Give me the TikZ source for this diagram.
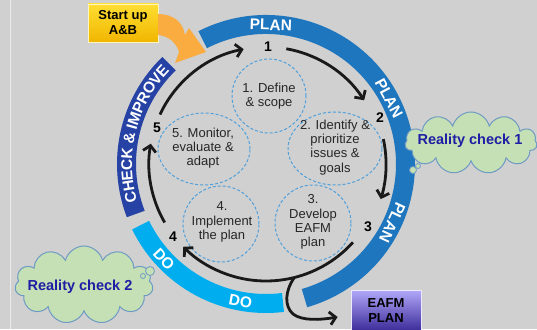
\documentclass[tikz,border=0pt]{standalone}
\usepackage{fontspec}
\setmainfont{Liberation Sans}
\usetikzlibrary{calc,arrows.meta,shapes.geometric,shapes.symbols}
\definecolor{bg}{RGB}{208,208,208}
\definecolor{planc}{RGB}{30,118,190}
\definecolor{doc}{RGB}{0,174,239}
\definecolor{checkc}{RGB}{37,66,164}
\definecolor{dashc}{RGB}{80,160,220}
\definecolor{cloudfill}{RGB}{197,224,180}
\definecolor{cloudline}{RGB}{110,155,195}
\definecolor{rctext}{RGB}{30,30,165}
\definecolor{orangec}{RGB}{250,172,64}
\definecolor{goldtop}{RGB}{255,222,50}
\definecolor{goldbot}{RGB}{240,182,0}
\definecolor{purtop}{RGB}{178,168,250}
\definecolor{purbot}{RGB}{55,40,150}
\begin{document}
\begin{tikzpicture}[x=1pt,y=1pt,
  band/.style={line width=19pt},
  bandtext/.style={font=\fontsize{15.5}{15.5}\selectfont\bfseries, text=white, inner sep=0pt, text height=11pt, text depth=0pt},
  dashcirc/.style={draw=dashc, dash pattern=on 3pt off 2pt, line width=1pt, inner sep=0pt},
  steptext/.style={align=center, font=\fontsize{13}{14.2}\selectfont, text=black!85, inner sep=0pt},
  cyc/.style={line width=2.8pt, black!90, -{Straight Barb[length=6pt,width=13pt]}},
  num/.style={font=\fontsize{14}{14}\selectfont\bfseries, inner sep=0pt},
  thought/.style={cloud, cloud puffs=11, cloud ignores aspect, draw=cloudline, fill=cloudfill, line width=1pt, inner sep=0pt},
  rclabel/.style={font=\fontsize{14.5}{15}\selectfont\bfseries, text=rctext, inner sep=0pt},
  bubble/.style={circle, draw=cloudline, fill=cloudfill, line width=0.8pt, inner sep=0pt},
  startbox/.style={draw=white!70!goldtop, line width=0.8pt, top color=goldtop, bottom color=goldbot, minimum width=70pt, minimum height=38pt, align=center, font=\fontsize{13}{15}\selectfont\bfseries, inner sep=0pt},
  eafmbox/.style={draw=white!75!purtop, line width=0.8pt, top color=purtop, bottom color=purbot, minimum width=70pt, minimum height=42pt, align=center, font=\fontsize{13}{15}\selectfont\bfseries, inner sep=0pt}
]
\useasboundingbox (0,0) rectangle (537,329);
\fill[bg] (0,0) rectangle (537,329);
\draw[white!55!bg, line width=1pt] (10,0) -- (10,329);

\coordinate (C) at (266,165);

% outer bands
\coordinate (pa) at ($(C)+(117:139.5)$);
\coordinate (da) at ($(C)+(206:139.5)$);
\coordinate (ca) at ($(C)+(134:139.5)$);
\draw[band, planc] (pa) arc[start angle=117, end angle=-74, radius=139.5];
\draw[band, doc] (da) arc[start angle=206, end angle=277, radius=139.5];
\draw[band, checkc] (ca) arc[start angle=134, end angle=201, radius=139.5];

% band texts
\node[bandtext, rotate=-2] (pl1) at ($(C)+(88:139.5)$) {PLAN};
\node[bandtext, rotate=-62] (pl2) at ($(C)+(28:139.5)$) {PLAN};
\node[bandtext, rotate=-115] (pl3) at ($(C)+(-25:139.5)$) {PLAN};
\node[bandtext, rotate=-47] (do1) at ($(C)+(223:139.5)$) {DO};
\node[bandtext, rotate=-10.5] (do2) at ($(C)+(259.5:139.5)$) {DO};
\foreach \a/\l [count=\i] in {193.75/C, 189.16/H, 184.73/E, 180.31/C, 175.72/K, 169.35/\&,
   164.40/I, 160.86/M, 156.09/P, 151.67/R, 146.89/O, 142.29/V, 138.05/E}
  \node[bandtext, rotate=\a-90] (ck\i) at ($(C)+(\a:139.5)$) {\l};

% clouds
\node[thought, minimum width=132pt, minimum height=62pt] (rc1) at (471,186) {};
\node[rclabel] (rc1t) at (470,188) {Reality check 1};
\node[bubble, minimum size=7pt] (b1a) at (413,159) {};
\node[bubble, minimum size=5pt] (b1b) at (418,163) {};
\node[thought, minimum width=138pt, minimum height=78pt] (rc2) at (84,44) {};
\node[rclabel] (rc2t) at (80,42) {Reality check 2};
\node[bubble, minimum size=9pt] (b2a) at (150,58) {};
\node[bubble, minimum size=5pt] (b2b) at (143,53) {};

% start box and orange arrow
\node[startbox] (start) at (123,306) {Start up\\A\&B};
\fill[orangec] (158,315) .. controls (173,315) and (183,307) .. (185,294)
  -- (189,301) -- (206,277) -- (175,266) -- (179,277)
  .. controls (176,287) and (168,293) .. (158,294) -- cycle;

% EAFM plan box
\node[eafmbox] (eafm) at (386,18) {EAFM\\PLAN};

% dashed step circles
\node[dashcirc, circle, minimum size=74pt] (c1) at (269,233) {};
\node[dashcirc, ellipse, minimum width=94pt, minimum height=73pt] (c2) at (335,180.5) {};
\node[dashcirc, circle, minimum size=76pt] (c3) at (313,106) {};
\node[dashcirc, circle, minimum size=76pt] (c4) at (221,105) {};
\node[dashcirc, ellipse, minimum width=92pt, minimum height=72pt] (c5) at (204,180) {};
\node[steptext] (t1) at (269,233) {1. Define\\\& scope};
\node[steptext] (t2) at (335,181.5) {2. Identify \&\\prioritize\\issues \&\\goals};
\node[steptext] (t3) at (313,107) {3.\\Develop\\EAFM\\plan};
\node[steptext] (t4) at (222,107) {4.\\Implement\\the plan};
\node[steptext] (t5) at (203,181) {5. Monitor,\\evaluate \&\\adapt};

% numbers
\node[num] (n1) at (268,282) {1};
\node[num] (n2) at (380,211) {2};
\node[num] (n3) at (368,102) {3};
\node[num] (n4) at (173,92) {4};
\node[num] (n5) at (157,201) {5};

% cycle arrows
\coordinate (s51) at ($(C)+(155:117)$);
\coordinate (s12) at ($(C)+(80:117)$);
\coordinate (s23) at ($(C)+(12:120)$);
\coordinate (s34) at ($(C)+(-42:117)$);
\coordinate (s45) at ($(C)+(210:117)$);
\draw[cyc] (s51) arc[start angle=155, end angle=101, radius=117];
\draw[cyc] (s12) arc[start angle=80, end angle=33, radius=117];
\draw[cyc] (s23) arc[start angle=12, end angle=-17, radius=120];
\draw[cyc] (s34) arc[start angle=-42, end angle=-135, radius=117];
\draw[cyc] (s45) arc[start angle=210, end angle=170, radius=117];

% branch to EAFM plan
\coordinate (br) at ($(C)+(-76:117)$);
\coordinate (bl) at (293,15);
\coordinate (eafmin) at ($(eafm.west)+(-13,-6)$);
\draw[cyc] (br) .. controls (285,38) and (284,23) .. (bl) .. controls (302,8) and (320,9) .. (eafmin);
\end{tikzpicture}
\end{document}
